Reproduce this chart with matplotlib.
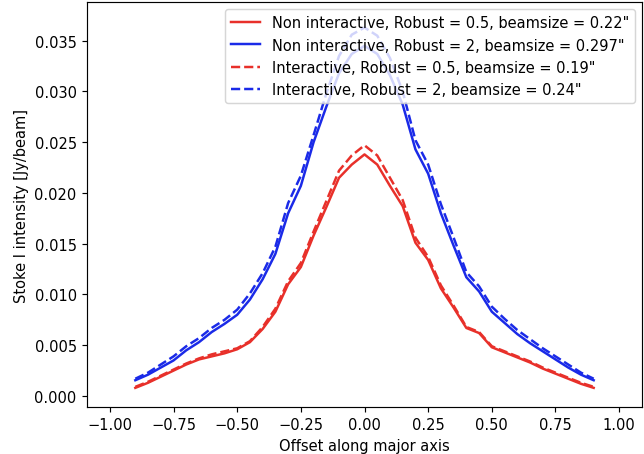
import matplotlib
matplotlib.use("Agg")
import matplotlib.pyplot as plt

# offset along major axis (shared by all four profiles)
offset = [-0.9, -0.85, -0.8, -0.75, -0.7, -0.65, -0.6, -0.55, -0.5, -0.45,
          -0.4, -0.35, -0.3, -0.25, -0.2, -0.15, -0.1, -0.05, 0.0, 0.05,
          0.1, 0.15, 0.2, 0.25, 0.3, 0.35, 0.4, 0.45, 0.5, 0.55,
          0.6, 0.65, 0.7, 0.75, 0.8, 0.85, 0.9]

# non interactive, robust 0.5
nonint_r05 = [0.0008, 0.0013, 0.0019, 0.0025, 0.0031, 0.0036, 0.0039, 0.0042, 0.0046, 0.0053,
              0.0066, 0.0083, 0.0110, 0.0127, 0.0158, 0.0186, 0.0215, 0.0228, 0.0238, 0.0228,
              0.0207, 0.0187, 0.0151, 0.0134, 0.0106, 0.0087, 0.0067, 0.0062, 0.0048, 0.0043,
              0.0038, 0.0033, 0.0027, 0.0022, 0.0017, 0.0012, 0.0008]

# non interactive, robust 2
nonint_r2 = [0.00155, 0.0021, 0.0028, 0.0035, 0.0045, 0.0053, 0.0063, 0.0071, 0.0080, 0.0095,
             0.0115, 0.0140, 0.0180, 0.0207, 0.0250, 0.0285, 0.0318, 0.0337, 0.0345, 0.0337,
             0.0316, 0.0287, 0.0243, 0.0219, 0.0180, 0.0148, 0.0117, 0.0103, 0.0083, 0.0072,
             0.0061, 0.0052, 0.0044, 0.0036, 0.0028, 0.0021, 0.00155]

# interactive, robust 0.5
int_r05 = [0.0009, 0.0014, 0.0020, 0.0026, 0.0032, 0.0037, 0.0041, 0.0044, 0.0047, 0.0054,
           0.0068, 0.0086, 0.0113, 0.0131, 0.0162, 0.0192, 0.0222, 0.0237, 0.0247, 0.0237,
           0.0215, 0.0193, 0.0156, 0.0137, 0.0109, 0.0089, 0.0068, 0.0063, 0.0049, 0.0044,
           0.0039, 0.0034, 0.0028, 0.0023, 0.0018, 0.0013, 0.0009]

# interactive, robust 2
int_r2 = [0.0017, 0.0023, 0.0031, 0.0039, 0.0049, 0.0057, 0.0067, 0.0075, 0.0085, 0.0101,
          0.0121, 0.0147, 0.0190, 0.0217, 0.0257, 0.0298, 0.0335, 0.0356, 0.0363, 0.0355,
          0.0333, 0.0300, 0.0252, 0.0228, 0.0189, 0.0156, 0.0122, 0.0108, 0.0088, 0.0076,
          0.0065, 0.0056, 0.0047, 0.0039, 0.0031, 0.0023, 0.0017]

labels = ['Non interactive, Robust = 0.5, beamsize = 0.22"',
          'Non interactive, Robust = 2, beamsize = 0.297"',
          'Interactive, Robust = 0.5, beamsize = 0.19"',
          'Interactive, Robust = 2, beamsize = 0.24"']

dpi = 105
fig = plt.figure(figsize=(644 / dpi, 455 / dpi), dpi=dpi)
ax = fig.add_axes([0.135, 0.103, 0.862, 0.890])

ax.plot(offset, nonint_r05, color='#e8302a', lw=1.7, label=labels[0])
ax.plot(offset, nonint_r2, color='#1a2ae8', lw=1.7, label=labels[1])
ax.plot(offset, int_r05, '--', color='#e8302a', lw=1.7, label=labels[2])
ax.plot(offset, int_r2, '--', color='#1a2ae8', lw=1.7, label=labels[3])

ax.set_xlim(-1.09, 1.09)
ax.set_ylim(-0.0011, 0.0388)
ax.set_xticks([-1.0, -0.75, -0.5, -0.25, 0.0, 0.25, 0.5, 0.75, 1.0])
ax.set_xlabel('Offset along major axis')
ax.set_ylabel('Stoke I intensity [Jy/beam]')
ax.legend(loc='upper right')

fig.savefig('out.png', dpi=dpi)
